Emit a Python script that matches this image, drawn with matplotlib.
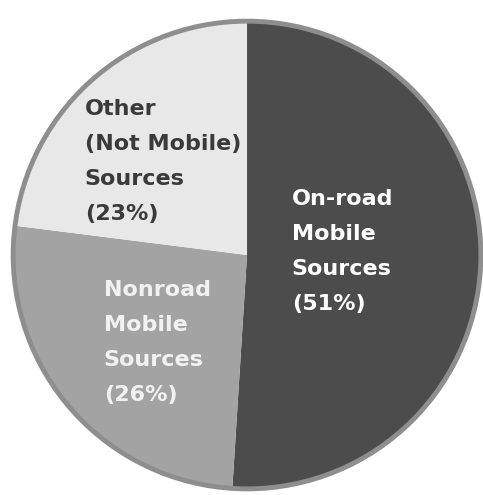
import matplotlib.pyplot as plt
from matplotlib.patches import Circle

# Data
labels = ['On-road\nMobile\nSources\n(51%)',
          'Nonroad\nMobile\nSources\n(26%)',
          'Other\n(Not Mobile)\nSources\n(23%)']
shares = [51, 26, 23]
colors = ['#4c4c4c', '#a3a3a3', '#e8e8e8']
text_colors = ['#ffffff', '#f2f2f2', '#3a3a3a']
# label positions (data coords, pie radius = 1)
label_pos = [(0.19, 0.015), (-0.61, -0.372), (-0.69, 0.398)]

fig = plt.figure(figsize=(4.83, 4.95), dpi=100)
ax = fig.add_axes([0, 0, 1, 1])

ax.pie(shares, colors=colors, startangle=90, counterclock=False,
       radius=1.0, wedgeprops={'edgecolor': 'none', 'linewidth': 0})
ax.add_patch(Circle((0, 0), 0.995, fill=False, edgecolor='#8e8e8e', lw=3.5))

for lab, (x, y), c in zip(labels, label_pos, text_colors):
    ax.text(x, y, lab, ha='left', va='center', color=c, fontsize=16,
            fontweight='bold', linespacing=1.95, family='DejaVu Sans')

ax.set_xlim(-1.051, 1.004)
ax.set_ylim(-1.021, 1.085)
ax.set_aspect('equal')
ax.axis('off')

fig.savefig('out.png', dpi=100, facecolor='white')
